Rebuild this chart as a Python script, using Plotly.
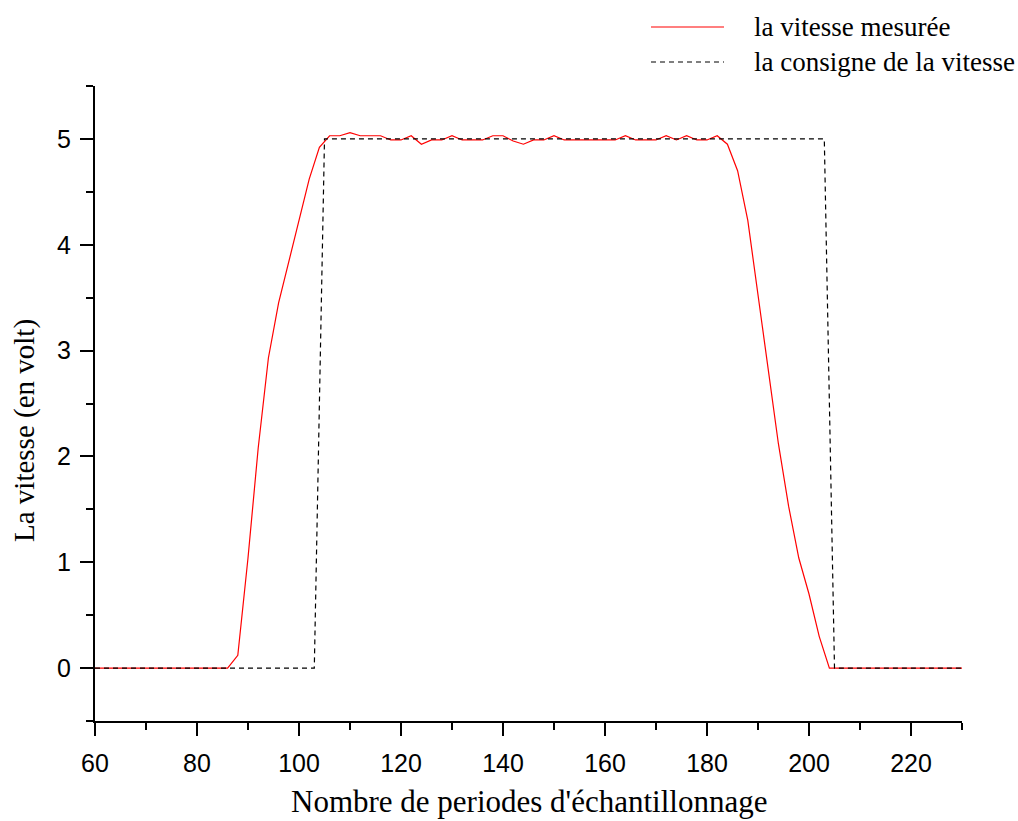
import plotly.graph_objects as go

# measured speed, sampled every 2 periods
x_mes = list(range(60, 232, 2))
y_mes = ([0.0] * 14 +  # 60..86
         [0.12, 1.04, 2.08, 2.93, 3.45, 3.84, 4.23, 4.62, 4.92,  # 88..104
          5.03, 5.03, 5.06, 5.03, 5.03, 5.03, 4.99, 4.99, 5.03, 4.95,  # 106..124
          4.99, 4.99, 5.03, 4.99, 4.99, 4.99, 5.03, 5.03, 4.98, 4.95,  # 126..144
          4.99, 4.99, 5.03, 4.99, 4.99, 4.99, 4.99, 4.99, 4.99, 5.03,  # 146..164
          4.99, 4.99, 4.99, 5.03, 4.99, 5.03, 4.99, 4.99, 5.03, 4.95,  # 166..184
          4.70, 4.23, 3.52, 2.86, 2.12, 1.53, 1.04, 0.70, 0.30, 0.0]  # 186..204
         + [0.0] * 13)  # 206..230

# set-point speed
x_cons = [60, 103, 105, 203, 205, 230]
y_cons = [0, 0, 5, 5, 0, 0]

x_ticks = [60, 80, 100, 120, 140, 160, 180, 200, 220]
y_ticks = [0, 1, 2, 3, 4, 5]

name_mes = "la vitesse mesurée"
name_cons = "la consigne de la vitesse"
x_title = "Nombre de periodes d'échantillonnage"
y_title = "La vitesse (en volt)"

W, H = 1018, 821
L, R, T, B = 95, 56, 86, 100
pw, ph = W - L - R, H - T - B

fig = go.Figure()
fig.add_trace(go.Scatter(x=x_mes, y=y_mes, mode="lines", name=name_mes,
                         line=dict(color="#ff0000", width=1.2), showlegend=False))
fig.add_trace(go.Scatter(x=x_cons, y=y_cons, mode="lines", name=name_cons,
                         line=dict(color="#000000", width=1.2, dash="5px,4px"),
                         showlegend=False))

serif = "Liberation Serif"
sans = "Liberation Sans, Arial"

axis_common = dict(showgrid=False, zeroline=False, showline=True, linecolor="black",
                   linewidth=2, ticks="outside", tickwidth=2, ticklen=13,
                   tickcolor="black", tickfont=dict(family=sans, size=25, color="black"))

fig.update_xaxes(range=[60, 230], tickvals=x_ticks, ticklabelstandoff=6,
                 minor=dict(dtick=10, tick0=60, ticklen=7, tickwidth=2,
                            ticks="outside", tickcolor="black", showgrid=False),
                 **axis_common)
fig.update_yaxes(range=[-0.5, 5.5], tickvals=y_ticks, ticklabelstandoff=4,
                 minor=dict(dtick=0.5, tick0=0, ticklen=7, tickwidth=2,
                            ticks="outside", tickcolor="black", showgrid=False),
                 **axis_common)

def px_to_paper_x(px):
    return (px - L) / pw

def px_to_paper_y(py):
    return (H - B - py) / ph

annotations = [
    dict(text=x_title, x=0.5, y=px_to_paper_y(801), xref="paper", yref="paper",
         xanchor="center", yanchor="middle", showarrow=False,
         font=dict(family=serif, size=31, color="black")),
    dict(text=y_title, x=px_to_paper_x(25), y=px_to_paper_y(431), xref="paper",
         yref="paper", xanchor="center", yanchor="middle", textangle=-90,
         showarrow=False, font=dict(family=serif, size=29, color="black")),
]
shapes = []
legend_items = [(name_mes, 27, dict(color="#ff0000", width=1.2)),
                (name_cons, 62, dict(color="#000000", width=1.2, dash="5px,4px"))]
for label, ypx, ln in legend_items:
    shapes.append(dict(type="line", xref="paper", yref="paper",
                       x0=px_to_paper_x(651), x1=px_to_paper_x(724),
                       y0=px_to_paper_y(ypx), y1=px_to_paper_y(ypx), line=ln))
    annotations.append(dict(text=label, x=px_to_paper_x(752), y=px_to_paper_y(ypx),
                            xref="paper", yref="paper", xanchor="left",
                            yanchor="middle", showarrow=False,
                            font=dict(family=serif, size=27, color="black")))

fig.update_layout(width=W, height=H, margin=dict(l=L, r=R, t=T, b=B),
                  plot_bgcolor="white", paper_bgcolor="white",
                  annotations=annotations, shapes=shapes, showlegend=False)

fig.write_html("out.html", config={"displayModeBar": False},
               post_script="document.body.style.margin='0';document.body.style.padding='0';")
